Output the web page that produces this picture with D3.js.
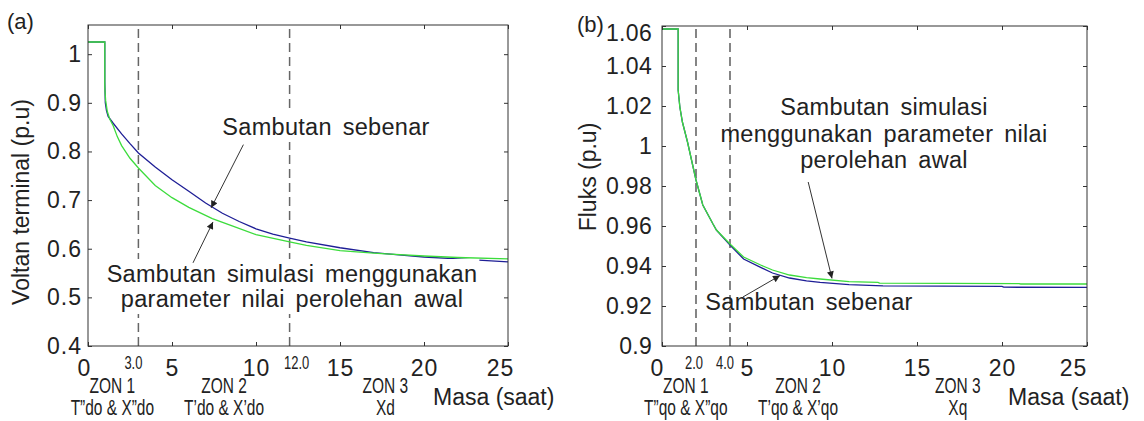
<!DOCTYPE html>
<html>
<head>
<meta charset="utf-8">
<script src="https://cdn.jsdelivr.net/npm/d3@7"></script>
<style>
  body { margin: 0; background: #fff; }
  text { font-family: "Liberation Sans", Arial, sans-serif; fill: #222; }
</style>
</head>
<body>
<script>
// ---- data ----
const xTicks = [0, 5, 10, 15, 20, 25];

// (a) terminal voltage
const yTicksA = [0.4, 0.5, 0.6, 0.7, 0.8, 0.9, 1];
const zoneLinesA = [3, 12];
const zoneTickLabelsA = ["3.0", "12.0"];
const zoneNamesA = ["ZON 1", "ZON 2", "ZON 3"];
const zoneParamsA = ["T\u201Ddo & X\u201Ddo", "T\u2019do & X\u2019do", "Xd"];

const tRealA = [0, 1.0, 1.0, 1.03, 1.1, 1.2, 1.5, 2, 2.5, 3, 4, 5, 6, 7, 8, 9, 10, 11, 12, 13, 15, 17, 18, 20, 22, 25];
const vRealA = [1.025, 1.025, 0.943, 0.9, 0.884, 0.872, 0.858, 0.836, 0.816, 0.797, 0.768, 0.742, 0.718, 0.694, 0.673, 0.656, 0.641, 0.63, 0.622, 0.614, 0.602, 0.592, 0.589, 0.583, 0.579, 0.573];
const tSimA = [0, 1.0, 1.0, 1.05, 1.15, 1.3, 1.5, 1.75, 2, 2.5, 3, 4, 5, 6, 7.4, 8.5, 10, 12, 13, 15, 17, 18, 20, 22, 25];
const vSimA = [1.025, 1.025, 0.93, 0.905, 0.882, 0.866, 0.853, 0.83, 0.812, 0.786, 0.766, 0.73, 0.705, 0.685, 0.662, 0.648, 0.629, 0.614, 0.607, 0.596, 0.591, 0.589, 0.585, 0.582, 0.579];

// (b) flux
const yTicksB = [0.9, 0.92, 0.94, 0.96, 0.98, 1, 1.02, 1.04, 1.06];
const zoneLinesB = [2, 4];
const zoneTickLabelsB = ["2.0", "4.0"];
const zoneNamesB = ["ZON 1", "ZON 2", "ZON 3"];
const zoneParamsB = ["T\u201Dqo & X\u201Dqo", "T\u2019qo & X\u2019qo", "Xq"];

const tRealB = [0, 0.95, 0.95, 1.05, 1.2, 1.5, 2, 2.4, 3, 3.2, 4, 4.8, 5.8, 6.5, 7.5, 8.5, 9.3, 11, 13, 20, 20.1, 25];
const vRealB = [1.0585, 1.0585, 1.028, 1.0195, 1.012, 1.002, 0.983, 0.9705, 0.961, 0.958, 0.9505, 0.9435, 0.9393, 0.9365, 0.934, 0.9326, 0.9318, 0.9307, 0.9301, 0.9298, 0.9294, 0.9293];
const tSimB = [0, 0.95, 0.95, 1.05, 1.2, 1.5, 2, 2.4, 3, 3.2, 4, 4.8, 5.8, 6.5, 7.5, 8.5, 9.3, 11, 12.7, 12.8, 21, 21.1, 25];
const vSimB = [1.0585, 1.0585, 1.028, 1.0195, 1.012, 1.002, 0.983, 0.9705, 0.961, 0.958, 0.951, 0.9445, 0.9405, 0.938, 0.9355, 0.9342, 0.9335, 0.9322, 0.9318, 0.9314, 0.9312, 0.931, 0.931];

const W = 1144, H = 421;
const svg = d3.select("body").append("svg").attr("width", W).attr("height", H);

const fmt = d3.format(".2~f");

function panel(o) {
  const x = d3.scaleLinear().domain([0, 25]).range([o.x0, o.x1]);
  const y = d3.scaleLinear().domain(o.yDom).range([o.yb, o.yt]);
  const g = svg.append("g");

  // dashed zone borders
  g.selectAll(".zone").data(o.zones).enter().append("line")
    .attr("x1", d => x(d)).attr("x2", d => x(d))
    .attr("y1", o.yb).attr("y2", o.yt)
    .attr("stroke", o.dashColor).attr("stroke-width", o.dashWidth)
    .attr("stroke-dasharray", "9,5");

  // curves
  const line = d3.line().x(d => x(d[0])).y(d => y(d[1]));
  g.append("path").datum(d3.zip(o.tReal, o.vReal))
    .attr("d", line).attr("fill", "none").attr("stroke", "#1e1e96").attr("stroke-width", 1.3);
  g.append("path").datum(d3.zip(o.tSim, o.vSim))
    .attr("d", line).attr("fill", "none").attr("stroke", "#3cdc3c").attr("stroke-width", 1.3);

  // axes
  const styleAxis = (sel, ls) => {
    sel.attr("font-size", null).attr("font-family", null);
    sel.select(".domain").remove();
    sel.selectAll("line").attr("stroke", "#333");
    sel.selectAll("text").attr("font-size", 23).attr("letter-spacing", ls).attr("fill", "#222");
  };
  const bottom = g.append("g").attr("transform", `translate(0,${o.yb})`)
    .call(d3.axisBottom(x).tickValues(xTicks).tickSizeInner(-4).tickSizeOuter(0).tickPadding(14).tickFormat(d3.format("d")))
    .call(styleAxis, 1);
  bottom.selectAll("text").filter(d => d === 0).attr("dx", o.zeroDx);
  bottom.selectAll("text").filter(d => d === 25).attr("dx", o.lastDx);
  g.append("g").attr("transform", `translate(0,${o.yt})`)
    .call(d3.axisTop(x).tickValues(xTicks).tickSizeInner(-4).tickSizeOuter(0).tickFormat(""))
    .call(styleAxis, 0);
  const left = g.append("g").attr("transform", `translate(${o.x0},0)`)
    .call(d3.axisLeft(y).tickValues(o.yTicks).tickSizeInner(-4).tickSizeOuter(0).tickPadding(o.yPad).tickFormat(fmt))
    .call(styleAxis, o.yLs);
  left.selectAll("text").filter(d => d === o.yDom[1]).attr("dy", o.topDy);
  g.append("g").attr("transform", `translate(${o.x1},0)`)
    .call(d3.axisRight(y).tickValues(o.yTicks).tickSizeInner(-4).tickSizeOuter(0).tickFormat(""))
    .call(styleAxis, 0);

  g.append("rect").attr("x", o.x0).attr("y", o.yt)
    .attr("width", o.x1 - o.x0).attr("height", o.yb - o.yt)
    .attr("fill", "none").attr("stroke", "#333").attr("stroke-width", 1);

  // condensed zone labels
  const narrow = (cx, by, s, size) => g.append("text")
    .attr("transform", `translate(${cx},${by}) scale(0.72,1)`)
    .attr("text-anchor", "middle").attr("font-size", size).text(s);
  o.zones.forEach((z, i) => narrow(x(z) + o.zoneTickDx[i], 369, o.zoneTicks[i], 18));
  o.zoneNameT.forEach((t, i) => {
    narrow(x(t), o.nameY[i], o.names[i], 21.5);
    narrow(x(t), o.nameY[i] + 22, o.params[i], 21.5);
  });

  g.append("text").attr("x", o.masaX).attr("y", 405).attr("font-size", 23).text("Masa (saat)");
  g.append("text").attr("transform", `translate(${o.ylabX},${o.ylabY}) rotate(-90)`)
    .attr("text-anchor", "middle").attr("font-size", 23).text(o.ylab);
  g.append("text").attr("x", o.tagX).attr("y", o.tagY).attr("font-size", 22).text(o.tag);

  return { g, x, y };
}

// arrowhead marker
svg.append("defs").append("marker").attr("id", "ah")
  .attr("viewBox", "0 0 10 10").attr("refX", 10).attr("refY", 5)
  .attr("markerWidth", 10).attr("markerHeight", 7).attr("markerUnits", "userSpaceOnUse")
  .attr("orient", "auto")
  .append("path").attr("d", "M0,0L10,5L0,10z").attr("fill", "#222");

function arrow(p, from, to) {
  p.g.append("line")
    .attr("x1", p.x(from[0])).attr("y1", p.y(from[1]))
    .attr("x2", p.x(to[0])).attr("y2", p.y(to[1]))
    .attr("stroke", "#333").attr("stroke-width", 1).attr("marker-end", "url(#ah)");
}

function note(p, cx, baselines, lines, bg) {
  const t = p.g.append("text").attr("text-anchor", "middle").attr("font-size", 23.5)
    .attr("word-spacing", 4).attr("letter-spacing", 0.3);
  lines.forEach((s, i) => t.append("tspan").attr("x", cx).attr("y", baselines[i]).text(s));
  if (bg) {
    const b = t.node().getBBox();
    p.g.insert("rect", () => t.node())
      .attr("x", b.x - 2).attr("y", b.y - 2).attr("width", b.width + 4).attr("height", b.height + 4)
      .attr("fill", "#fff");
  }
}

const pa = panel({
  x0: 88, x1: 508, yt: 25, yb: 346, yDom: [0.4, 1.06], yTicks: yTicksA, yPad: 6, yLs: 1, topDy: "0.32em",
  zones: zoneLinesA, zoneTicks: zoneTickLabelsA, zoneTickDx: [-5, 7],
  zoneNameT: [1.45, 8.1, 17.7], names: zoneNamesA, params: zoneParamsA, nameY: [393, 393, 393],
  tReal: tRealA, vReal: vRealA, tSim: tSimA, vSim: vSimA,
  dashColor: "#666", dashWidth: 1.5, zeroDx: -4, lastDx: -8,
  masaX: 433, ylab: "Voltan terminal (p.u)", ylabX: 29, ylabY: 202, tag: "(a)", tagX: 7, tagY: 29
});
note(pa, 326, [135], ["Sambutan sebenar"], true);
note(pa, 292, [282, 307], ["Sambutan simulasi menggunakan", "parameter nilai perolehan awal"], true);
arrow(pa, [9.25, 0.814], [7.33, 0.684]);
arrow(pa, [6.25, 0.571], [7.44, 0.655]);

const pb = panel({
  x0: 662, x1: 1087, yt: 26, yb: 346, yDom: [0.9, 1.06], yTicks: yTicksB, yPad: 10, yLs: 0.3, topDy: "0.62em",
  zones: zoneLinesB, zoneTicks: zoneTickLabelsB, zoneTickDx: [-2, -5],
  zoneNameT: [1.4, 8.0, 17.4], names: zoneNamesB, params: zoneParamsB, nameY: [393, 393, 393],
  tReal: tRealB, vReal: vRealB, tSim: tSimB, vSim: vSimB,
  dashColor: "#222", dashWidth: 1.1, zeroDx: -5, lastDx: -14,
  masaX: 1008, ylab: "Fluks (p.u)", ylabX: 596, ylabY: 177, tag: "(b)", tagX: 577, tagY: 32
});
note(pb, 884, [115, 142, 168], ["Sambutan simulasi", "menggunakan parameter nilai", "perolehan awal"], false);
note(pb, 809, [310], ["Sambutan sebenar"], false);
arrow(pb, [8.6, 0.982], [10.0, 0.9338]);
arrow(pb, [4.76, 0.9245], [6.94, 0.9352]);
</script>
</body>
</html>
